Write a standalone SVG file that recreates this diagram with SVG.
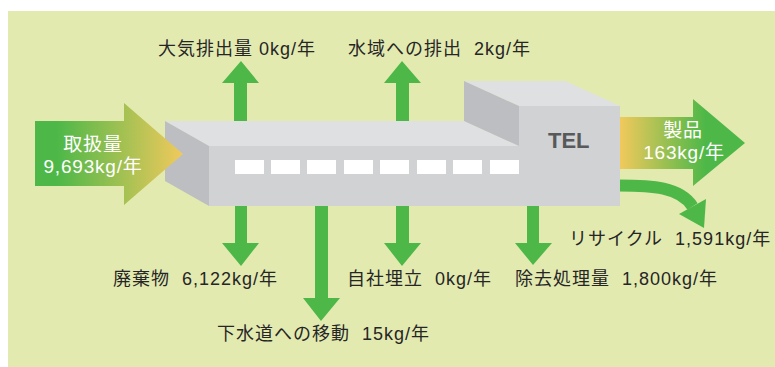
<svg xmlns="http://www.w3.org/2000/svg" width="775" height="367" viewBox="0 0 775 367">
  <defs>
    <linearGradient id="inGrad" gradientUnits="userSpaceOnUse" x1="35" y1="0" x2="183" y2="0">
      <stop offset="0.15" stop-color="#4db848"/>
      <stop offset="1" stop-color="#f1c95c"/>
    </linearGradient>
    <linearGradient id="outGrad" gradientUnits="userSpaceOnUse" x1="620" y1="0" x2="710" y2="0">
      <stop offset="0" stop-color="#f1c95c"/>
      <stop offset="0.95" stop-color="#4db848"/>
    </linearGradient>
    <style>
      .bg { fill: #e3eab0; }
      .top { fill: #dfe0e2; }
      .side { fill: #bdbec2; }
      .front { fill: #d1d2d4; }
      .win { fill: #ffffff; }
      .arrow { fill: #4db848; }
      .label { font-family: "Liberation Sans", "Noto Sans CJK JP", sans-serif; font-size: 18px; letter-spacing: 1px; fill: #262626; }
      .inner { font-family: "Liberation Sans", "Noto Sans CJK JP", sans-serif; font-size: 19px; letter-spacing: 0.8px; fill: #ffffff; text-anchor: middle; }
      .tel { font-family: "Liberation Sans", sans-serif; font-size: 22px; font-weight: bold; fill: #58595b; }
    </style>
  </defs>

  <rect class="bg" x="8" y="11" width="767" height="356"/>

  <!-- up / down flow arrows (drawn behind the equipment) -->
  <g id="connectors">
    <polygon class="arrow" points="234,122 234,83 222,83 241,61 259,83 247,83 247,122"/>
    <polygon class="arrow" points="396,122 396,83 384,83 402,61 421,83 409,83 409,122"/>
    <polygon class="arrow" points="235,205 235,243 222,243 241,266 259,243 247,243 247,205"/>
    <polygon class="arrow" points="315,205 315,298 303,298 321,321 340,298 328,298 328,205"/>
    <polygon class="arrow" points="396,205 396,243 384,243 402,266 421,243 409,243 409,205"/>
    <polygon class="arrow" points="527,205 527,243 515,243 533,265 552,243 539,243 539,205"/>
    <!-- recycle: curved arrow -->
    <path d="M619,185.5 C652,185.5 680,187 692.5,206.5" fill="none" stroke="#4db848" stroke-width="12"/>
    <polygon class="arrow" points="679,214 706,199 704,228"/>
  </g>

  <!-- process equipment -->
  <g id="equipment">
    <polygon class="top" points="165,121 464,121 519,146 209,146"/>
    <polygon class="side" points="165,121 209,146 209,206 165,181"/>
    <polygon class="top" points="464,81 565,81 620,106 519,106"/>
    <polygon class="side" points="464,81 519,106 519,146 464,121"/>
    <polygon class="front" points="209,146 519,146 519,106 620,106 620,206 209,206"/>
    <rect class="win" x="235" y="160" width="29" height="14"/>
    <rect class="win" x="271" y="160" width="29" height="14"/>
    <rect class="win" x="307" y="160" width="29" height="14"/>
    <rect class="win" x="344" y="160" width="29" height="14"/>
    <rect class="win" x="380" y="160" width="29" height="14"/>
    <rect class="win" x="417" y="160" width="29" height="14"/>
    <rect class="win" x="453" y="160" width="29" height="14"/>
    <rect class="win" x="490" y="160" width="29" height="14"/>
    <text class="tel" x="548" y="148">TEL</text>
  </g>

  <!-- input -->
  <g id="input">
    <polygon fill="url(#inGrad)" points="35,121 124,121 124,103 183,154 124,205 124,186 35,186"/>
    <text class="inner" x="93" y="151">取扱量</text>
    <text class="inner" x="93" y="173">9,693kg/年</text>
  </g>

  <!-- product output -->
  <g id="product">
    <polygon fill="url(#outGrad)" points="620,117 693,117 693,99 745,143 693,186 693,169 620,169"/>
    <text class="inner" x="683" y="137">製品</text>
    <text class="inner" x="684" y="159">163kg/年</text>
  </g>

  <g id="air"><text class="label" x="158" y="55">大気排出量 0kg/年</text></g>
  <g id="water"><text class="label" x="348" y="55" xml:space="preserve">水域への排出  2kg/年</text></g>
  <g id="waste"><text class="label" x="113" y="285" xml:space="preserve">廃棄物  6,122kg/年</text></g>
  <g id="sewer"><text class="label" x="217" y="340" xml:space="preserve">下水道への移動  15kg/年</text></g>
  <g id="landfill"><text class="label" x="347" y="285" xml:space="preserve">自社埋立  0kg/年</text></g>
  <g id="removal"><text class="label" x="515" y="285" xml:space="preserve">除去処理量  1,800kg/年</text></g>
  <g id="recycle"><text class="label" x="569" y="245" xml:space="preserve">リサイクル  1,591kg/年</text></g>
</svg>
